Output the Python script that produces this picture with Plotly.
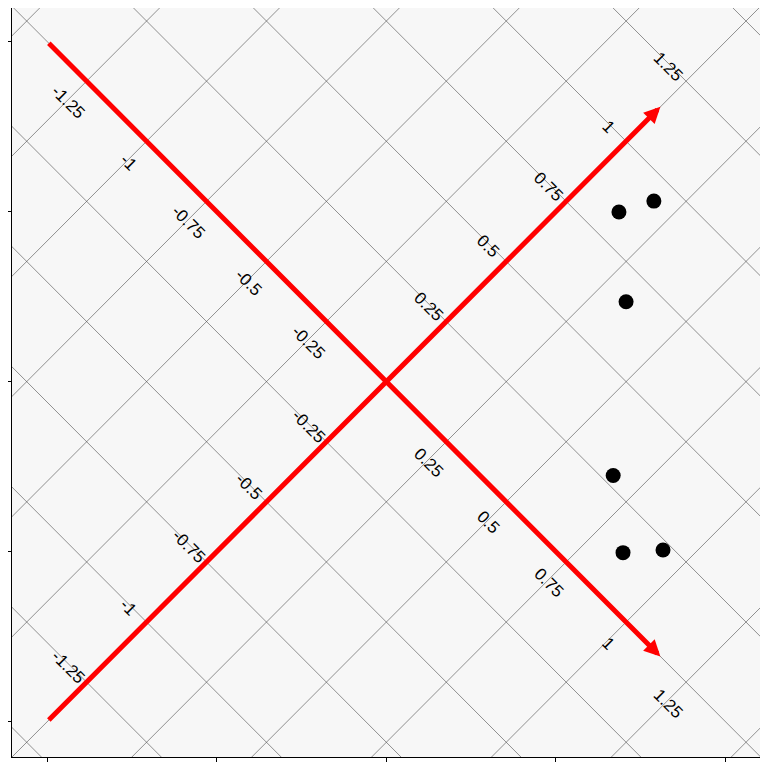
import numpy as np
import plotly.graph_objects as go

# ---- data ----
axis_ticks = [-1.25, -1, -0.75, -0.5, -0.25, 0.25, 0.5, 0.75, 1, 1.25]
tick_labels = ["-1.25", "-1", "-0.75", "-0.5", "-0.25", "0.25", "0.5", "0.75", "1", "1.25"]
grid_levels = [-1.75, -1.5, -1.25, -1.0, -0.75, -0.5, -0.25, 0.0,
               0.25, 0.5, 0.75, 1.0, 1.25, 1.5, 1.75]
axis_a_span = [-1.414, 1.143]   # descending calibrated axis (start, arrow tip)
axis_b_span = [-1.414, 1.143]   # ascending calibrated axis (start, arrow tip)
point_x = [0.686, 0.789, 0.707, 0.669, 0.698, 0.816]
point_y = [0.499, 0.531, 0.235, -0.276, -0.503, -0.495]
frame_ticks = [-1, -0.5, 0, 0.5, 1]

S2 = np.sqrt(2.0)


def rot(a, b):
    """rotated (a: down-right, b: up-right) -> plot x, y"""
    return (a + b) / S2, (b - a) / S2


fig = go.Figure()

# rotated grid
gx, gy = [], []
for g in grid_levels:
    for (p0, p1) in [(rot(g, -3), rot(g, 3)), (rot(-3, g), rot(3, g))]:
        gx += [p0[0], p1[0], None]
        gy += [p0[1], p1[1], None]
fig.add_trace(go.Scatter(x=gx, y=gy, mode="lines",
                         line=dict(color="#4a4a4a", width=0.6),
                         hoverinfo="skip", showlegend=False))

# points
fig.add_trace(go.Scatter(x=point_x, y=point_y, mode="markers",
                         marker=dict(color="black", size=15),
                         showlegend=False))

annotations = []
# calibrated axes as arrows
sa = rot(axis_a_span[0], 0); ea = rot(axis_a_span[1], 0)
sb = rot(0, axis_b_span[0]); eb = rot(0, axis_b_span[1])
for s, e in [(sa, ea), (sb, eb)]:
    annotations.append(dict(x=e[0], y=e[1], ax=s[0], ay=s[1],
                            xref="x", yref="y", axref="x", ayref="y",
                            text="", showarrow=True, arrowhead=2,
                            arrowsize=0.65, arrowwidth=5, arrowcolor="red",
                            standoff=0))

font = dict(family="Liberation Sans, Arial, sans-serif", size=17, color="black")
for t, lab in zip(axis_ticks, tick_labels):
    xa, ya = rot(t, 0)
    annotations.append(dict(x=xa, y=ya, xref="x", yref="y", text=lab,
                            showarrow=False, textangle=45, font=font,
                            xshift=-18, yshift=-21))
    xb, yb = rot(0, t)
    annotations.append(dict(x=xb, y=yb, xref="x", yref="y", text=lab,
                            showarrow=False, textangle=45, font=font,
                            xshift=-18, yshift=15))

axis_style = dict(showgrid=False, zeroline=False, showline=True,
                  linecolor="black", linewidth=1, ticks="outside",
                  ticklen=4, tickcolor="black", tickvals=frame_ticks,
                  showticklabels=False, mirror=False)

fig.update_layout(
    width=760, height=760,
    margin=dict(l=2, r=8, t=0, b=11, pad=0),
    paper_bgcolor="white", plot_bgcolor="#f7f7f7",
    xaxis=dict(range=[-1.104, 1.102], **axis_style),
    yaxis=dict(range=[-1.104, 1.099], **axis_style),
    annotations=annotations,
    showlegend=False,
)

fig.write_html("out.html")
